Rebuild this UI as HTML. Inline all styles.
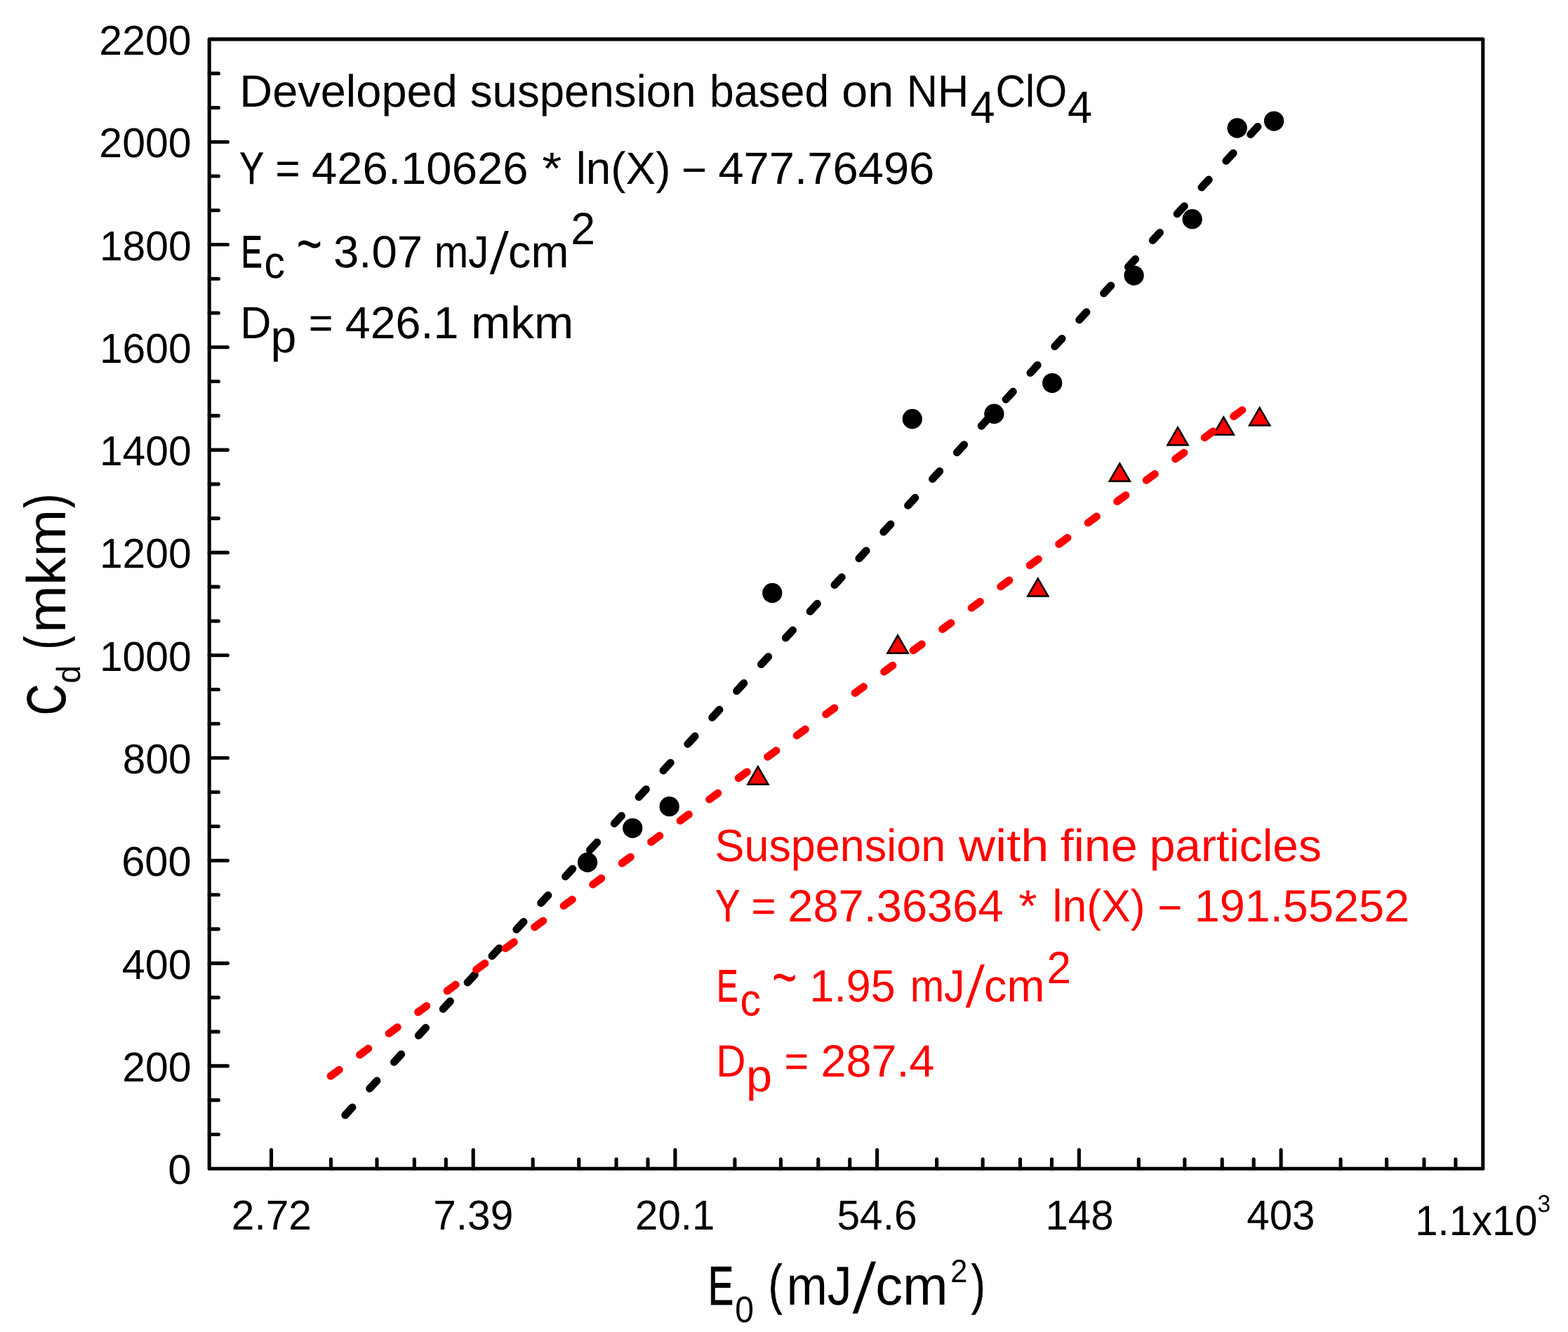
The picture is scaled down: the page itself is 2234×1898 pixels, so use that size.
<!DOCTYPE html>
<html><head><meta charset="utf-8"><title>Cd vs E0</title>
<style>html,body{margin:0;padding:0;background:#fff;width:2234px;height:1898px;overflow:hidden}svg{display:block;text-rendering:geometricPrecision}</style></head>
<body>
<svg width="2234" height="1898" viewBox="0 0 2234 1898">
<rect width="2234" height="1898" fill="#fff"/>
<g fill="#000">
<circle cx="837.1" cy="1228.8" r="14.15"/>
<circle cx="901.3" cy="1180.1" r="14.15"/>
<circle cx="953.7" cy="1149.2" r="14.15"/>
<circle cx="1100.3" cy="844.9" r="14.15"/>
<circle cx="1299.8" cy="597.0" r="14.15"/>
<circle cx="1416.4" cy="589.7" r="14.15"/>
<circle cx="1499.2" cy="545.8" r="14.15"/>
<circle cx="1615.6" cy="392.6" r="14.15"/>
<circle cx="1698.7" cy="312.2" r="14.15"/>
<circle cx="1762.7" cy="182.5" r="14.15"/>
<circle cx="1815.1" cy="172.6" r="14.15"/>
</g>
<g fill="#ff0000" stroke="#000" stroke-width="2.5" stroke-linejoin="miter">
<path d="M1079.95 1092.34L1094.55 1117.63L1065.35 1117.63Z"/>
<path d="M1279.10 905.34L1293.70 930.63L1264.50 930.63Z"/>
<path d="M1478.80 824.31L1493.40 849.60L1464.20 849.60Z"/>
<path d="M1595.30 660.44L1609.90 685.73L1580.70 685.73Z"/>
<path d="M1678.00 608.97L1692.60 634.26L1663.40 634.26Z"/>
<path d="M1743.30 594.27L1757.90 619.56L1728.70 619.56Z"/>
<path d="M1794.60 580.94L1809.20 606.23L1780.00 606.23Z"/>
</g>
<polyline points="491.80,1588.90 524.50,1553.47 557.21,1518.04 589.91,1482.61 622.62,1447.18 655.33,1411.75 688.03,1376.32 720.74,1340.89 753.44,1305.45 786.14,1270.02 818.85,1234.59 851.56,1199.16 884.26,1163.73 916.97,1128.30 949.67,1092.87 982.38,1057.44 1015.08,1022.01 1047.79,986.58 1080.49,951.15 1113.19,915.72 1145.90,880.29 1178.61,844.86 1211.31,809.43 1244.02,774.00 1276.72,738.57 1309.42,703.13 1342.13,667.70 1374.84,632.27 1407.54,596.84 1440.25,561.41 1472.95,525.98 1505.66,490.55 1538.36,455.12 1571.06,419.69 1603.77,384.26 1636.47,348.83 1669.18,313.40 1701.88,277.97 1734.59,242.54 1767.30,207.11 1800.00,171.68" fill="none" stroke="#000" stroke-width="11" stroke-linecap="round" stroke-dasharray="15 36.4"/>
<polyline points="471.15,1533.26 503.87,1509.35 536.59,1485.45 569.31,1461.54 602.03,1437.64 634.76,1413.73 667.48,1389.82 700.20,1365.92 732.92,1342.01 765.64,1318.11 798.36,1294.20 831.08,1270.29 863.80,1246.39 896.53,1222.48 929.25,1198.58 961.97,1174.67 994.69,1150.76 1027.41,1126.86 1060.13,1102.95 1092.85,1079.04 1125.57,1055.14 1158.30,1031.23 1191.02,1007.33 1223.74,983.42 1256.46,959.51 1289.18,935.61 1321.90,911.70 1354.62,887.80 1387.34,863.89 1420.07,839.98 1452.79,816.08 1485.51,792.17 1518.23,768.27 1550.95,744.36 1583.67,720.45 1616.39,696.55 1649.11,672.64 1681.84,648.74 1714.56,624.83 1747.28,600.92 1780.00,577.02" fill="none" stroke="#ff0000" stroke-width="11" stroke-linecap="round" stroke-dasharray="15 36.4"/>
<g stroke="#000" stroke-width="5.1" stroke-linecap="round" fill="none">
<path stroke-linejoin="round" d="M298.2 55.9H2112.8V1665.2H298.2Z"/>
<path d="M298.2 1518.90H324.35M298.2 1372.60H324.35M298.2 1226.30H324.35M298.2 1080.00H324.35M298.2 933.70H324.35M298.2 787.40H324.35M298.2 641.10H324.35M298.2 494.80H324.35M298.2 348.50H324.35M298.2 202.20H324.35M298.2 1616.43H311.35M298.2 1567.67H311.35M298.2 1470.13H311.35M298.2 1421.37H311.35M298.2 1323.83H311.35M298.2 1275.07H311.35M298.2 1177.53H311.35M298.2 1128.77H311.35M298.2 1031.23H311.35M298.2 982.47H311.35M298.2 884.93H311.35M298.2 836.17H311.35M298.2 738.63H311.35M298.2 689.87H311.35M298.2 592.33H311.35M298.2 543.57H311.35M298.2 446.03H311.35M298.2 397.27H311.35M298.2 299.73H311.35M298.2 250.97H311.35M298.2 153.43H311.35M298.2 104.67H311.35M386.49 1665.2V1638.65M674.21 1665.2V1638.65M961.92 1665.2V1638.65M1249.64 1665.2V1638.65M1537.36 1665.2V1638.65M1825.08 1665.2V1638.65M471.48 1665.2V1651.9M537.00 1665.2V1651.9M590.34 1665.2V1651.9M635.32 1665.2V1651.9M759.20 1665.2V1651.9M824.72 1665.2V1651.9M878.06 1665.2V1651.9M923.04 1665.2V1651.9M1046.92 1665.2V1651.9M1112.44 1665.2V1651.9M1165.78 1665.2V1651.9M1210.76 1665.2V1651.9M1334.63 1665.2V1651.9M1400.16 1665.2V1651.9M1453.50 1665.2V1651.9M1498.47 1665.2V1651.9M1622.35 1665.2V1651.9M1687.88 1665.2V1651.9M1741.21 1665.2V1651.9M1786.19 1665.2V1651.9M1910.07 1665.2V1651.9M1975.60 1665.2V1651.9M2028.93 1665.2V1651.9M2073.91 1665.2V1651.9"/>
</g>
<g style="font-family:'Liberation Sans',Arial,sans-serif;font-kerning:none;font-variant-ligatures:none">
<text x="141.33" y="77.90" font-size="59.5" textLength="131.27" lengthAdjust="spacingAndGlyphs" fill="#000">2200</text>
<text x="141.33" y="224.20" font-size="59.5" textLength="131.27" lengthAdjust="spacingAndGlyphs" fill="#000">2000</text>
<text x="141.93" y="370.50" font-size="59.5" textLength="130.67" lengthAdjust="spacingAndGlyphs" fill="#000">1800</text>
<text x="141.93" y="516.80" font-size="59.5" textLength="130.67" lengthAdjust="spacingAndGlyphs" fill="#000">1600</text>
<text x="141.93" y="663.10" font-size="59.5" textLength="130.67" lengthAdjust="spacingAndGlyphs" fill="#000">1400</text>
<text x="141.93" y="809.40" font-size="59.5" textLength="130.67" lengthAdjust="spacingAndGlyphs" fill="#000">1200</text>
<text x="141.93" y="955.70" font-size="59.5" textLength="130.67" lengthAdjust="spacingAndGlyphs" fill="#000">1000</text>
<text x="174.85" y="1102.00" font-size="59.5" textLength="97.73" lengthAdjust="spacingAndGlyphs" fill="#000">800</text>
<text x="173.17" y="1248.30" font-size="59.5" textLength="99.46" lengthAdjust="spacingAndGlyphs" fill="#000">600</text>
<text x="173.74" y="1394.60" font-size="59.5" textLength="98.87" lengthAdjust="spacingAndGlyphs" fill="#000">400</text>
<text x="174.23" y="1540.90" font-size="59.5" textLength="98.37" lengthAdjust="spacingAndGlyphs" fill="#000">200</text>
<text x="239.25" y="1687.20" font-size="59.5" textLength="33.39" lengthAdjust="spacingAndGlyphs" fill="#000">0</text>
<text x="329.75" y="1752.00" font-size="59.5" textLength="114.20" lengthAdjust="spacingAndGlyphs" fill="#000">2.72</text>
<text x="617.19" y="1752.00" font-size="59.5" textLength="114.19" lengthAdjust="spacingAndGlyphs" fill="#000">7.39</text>
<text x="905.07" y="1752.00" font-size="59.5" textLength="113.37" lengthAdjust="spacingAndGlyphs" fill="#000">20.1</text>
<text x="1192.45" y="1752.00" font-size="59.5" textLength="114.12" lengthAdjust="spacingAndGlyphs" fill="#000">54.6</text>
<text x="1489.46" y="1752.00" font-size="59.5" textLength="97.17" lengthAdjust="spacingAndGlyphs" fill="#000">148</text>
<text x="1776.26" y="1752.00" font-size="59.5" textLength="97.30" lengthAdjust="spacingAndGlyphs" fill="#000">403</text>
<text x="2016.28" y="1759.80" font-size="60.5" textLength="174.29" lengthAdjust="spacingAndGlyphs" fill="#000">1.1x10</text>
<text x="2190.52" y="1727.00" font-size="34.7" textLength="18.65" lengthAdjust="spacingAndGlyphs" fill="#000">3</text>
<text x="1008.70" y="1858.90" font-size="78" textLength="36.55" lengthAdjust="spacingAndGlyphs" fill="#000" stroke="#000" stroke-width="1.06">E</text>
<text x="1047.32" y="1884.00" font-size="52.5" textLength="26.76" lengthAdjust="spacingAndGlyphs" fill="#000">0</text>
<text x="1094.90" y="1856.70" font-size="78" textLength="19.34" lengthAdjust="spacingAndGlyphs" fill="#000" stroke="#000" stroke-width="0.86">(</text>
<text x="1120.78" y="1858.90" font-size="78" textLength="92.79" lengthAdjust="spacingAndGlyphs" fill="#000">mJ</text>
<g transform="translate(0 1871.80) scale(1 0.7677)"><text stroke="#fff" stroke-width="3.44" x="1212.47" y="0.00" font-size="136.29" textLength="37.87" lengthAdjust="spacingAndGlyphs" fill="#000">/</text></g>
<text x="1247.20" y="1858.90" font-size="78" textLength="103.41" lengthAdjust="spacingAndGlyphs" fill="#000">cm</text>
<text x="1354.31" y="1826.90" font-size="46.3" textLength="24.17" lengthAdjust="spacingAndGlyphs" fill="#000">2</text>
<text x="1384.06" y="1856.70" font-size="78" textLength="19.59" lengthAdjust="spacingAndGlyphs" fill="#000" stroke="#000" stroke-width="0.81">)</text>
<g transform="translate(92.6 1016.1) rotate(-90)">
<text x="-3.14" y="0.00" font-size="78" textLength="44.59" lengthAdjust="spacingAndGlyphs" fill="#000" stroke="#000" stroke-width="0.66">C</text>
<text x="42.36" y="21.60" font-size="47.5" textLength="25.72" lengthAdjust="spacingAndGlyphs" fill="#000">d</text>
<text x="91.06" y="-2.50" font-size="78" textLength="17.96" lengthAdjust="spacingAndGlyphs" fill="#000" stroke="#000" stroke-width="1.12">(</text>
<text x="113.99" y="0.00" font-size="78" textLength="176.48" lengthAdjust="spacingAndGlyphs" fill="#000">mkm</text>
<text x="292.86" y="-2.50" font-size="78" textLength="19.47" lengthAdjust="spacingAndGlyphs" fill="#000" stroke="#000" stroke-width="0.84">)</text>
</g>
<text x="341.27" y="152.30" font-size="64.5" textLength="310.51" lengthAdjust="spacingAndGlyphs" fill="#000">Developed</text>
<text x="669.73" y="152.30" font-size="64.5" textLength="321.80" lengthAdjust="spacingAndGlyphs" fill="#000">suspension</text>
<text x="1011.07" y="152.30" font-size="64.5" textLength="170.15" lengthAdjust="spacingAndGlyphs" fill="#000">based</text>
<text x="1199.21" y="152.30" font-size="64.5" textLength="73.91" lengthAdjust="spacingAndGlyphs" fill="#000">on</text>
<text x="1291.77" y="152.30" font-size="64.5" textLength="88.53" lengthAdjust="spacingAndGlyphs" fill="#000">NH</text>
<text x="1382.45" y="174.50" font-size="64.5" textLength="35.10" lengthAdjust="spacingAndGlyphs" fill="#000">4</text>
<text x="1418.40" y="152.30" font-size="64.5" textLength="101.83" lengthAdjust="spacingAndGlyphs" fill="#000">ClO</text>
<text x="1521.05" y="174.50" font-size="64.5" textLength="35.10" lengthAdjust="spacingAndGlyphs" fill="#000">4</text>
<text x="341.26" y="261.90" font-size="64.5" textLength="34.69" lengthAdjust="spacingAndGlyphs" fill="#000" stroke="#000" stroke-width="0.60">Y</text>
<text x="392.24" y="261.90" font-size="64.5" textLength="35.46" lengthAdjust="spacingAndGlyphs" fill="#000">=</text>
<text x="444.00" y="261.90" font-size="64.5" textLength="308.57" lengthAdjust="spacingAndGlyphs" fill="#000">426.10626</text>
<text x="772.34" y="261.90" font-size="64.5" textLength="28.09" lengthAdjust="spacingAndGlyphs" fill="#000">*</text>
<text x="820.70" y="261.90" font-size="64.5" textLength="134.76" lengthAdjust="spacingAndGlyphs" fill="#000">ln(X)</text>
<text x="971.05" y="263.75" font-size="64.5" textLength="36.06" lengthAdjust="spacingAndGlyphs" fill="#000">−</text>
<text x="1023.40" y="261.90" font-size="64.5" textLength="307.96" lengthAdjust="spacingAndGlyphs" fill="#000">477.76496</text>
<text x="343.58" y="380.80" font-size="64.5" textLength="30.27" lengthAdjust="spacingAndGlyphs" fill="#000" stroke="#000" stroke-width="1.05">E</text>
<text x="376.59" y="396.40" font-size="64.5" textLength="29.57" lengthAdjust="spacingAndGlyphs" fill="#000">c</text>
<g transform="translate(0 347.70) scale(1 1.4) translate(0 -347.70)"><text x="422.59" y="369.12" font-size="64.5" textLength="36.52" lengthAdjust="spacingAndGlyphs" fill="#000">~</text></g>
<text x="474.91" y="380.80" font-size="64.5" textLength="127.17" lengthAdjust="spacingAndGlyphs" fill="#000">3.07</text>
<text x="618.83" y="380.80" font-size="64.5" textLength="77.58" lengthAdjust="spacingAndGlyphs" fill="#000">mJ</text>
<g transform="translate(0 391.32) scale(1 0.7814)"><text stroke="#fff" stroke-width="2.74" x="695.77" y="0.00" font-size="111.44" textLength="30.96" lengthAdjust="spacingAndGlyphs" fill="#000">/</text></g>
<text x="724.05" y="380.80" font-size="64.5" textLength="86.43" lengthAdjust="spacingAndGlyphs" fill="#000">cm</text>
<text x="813.24" y="348.10" font-size="64.5" textLength="34.91" lengthAdjust="spacingAndGlyphs" fill="#000">2</text>
<text x="342.29" y="482.30" font-size="64.5" textLength="44.14" lengthAdjust="spacingAndGlyphs" fill="#000">D</text>
<text x="385.53" y="502.40" font-size="64.5" textLength="36.85" lengthAdjust="spacingAndGlyphs" fill="#000">p</text>
<text x="439.80" y="482.30" font-size="64.5" textLength="34.74" lengthAdjust="spacingAndGlyphs" fill="#000">=</text>
<text x="491.82" y="482.30" font-size="64.5" textLength="161.53" lengthAdjust="spacingAndGlyphs" fill="#000">426.1</text>
<text x="670.92" y="482.30" font-size="64.5" textLength="146.23" lengthAdjust="spacingAndGlyphs" fill="#000">mkm</text>
<text x="1018.44" y="1227.00" font-size="64.5" textLength="328.74" lengthAdjust="spacingAndGlyphs" fill="#ff0000">Suspension</text>
<text x="1366.11" y="1227.00" font-size="64.5" textLength="128.28" lengthAdjust="spacingAndGlyphs" fill="#ff0000">with</text>
<text x="1510.73" y="1227.00" font-size="64.5" textLength="110.00" lengthAdjust="spacingAndGlyphs" fill="#ff0000">fine</text>
<text x="1637.76" y="1227.00" font-size="64.5" textLength="245.12" lengthAdjust="spacingAndGlyphs" fill="#ff0000">particles</text>
<text x="1019.25" y="1313.20" font-size="64.5" textLength="35.01" lengthAdjust="spacingAndGlyphs" fill="#ff0000" stroke="#ff0000" stroke-width="0.57">Y</text>
<text x="1070.57" y="1313.20" font-size="64.5" textLength="35.10" lengthAdjust="spacingAndGlyphs" fill="#ff0000">=</text>
<text x="1122.23" y="1313.20" font-size="64.5" textLength="307.38" lengthAdjust="spacingAndGlyphs" fill="#ff0000">287.36364</text>
<text x="1451.21" y="1313.20" font-size="64.5" textLength="26.24" lengthAdjust="spacingAndGlyphs" fill="#ff0000">*</text>
<text x="1499.58" y="1313.20" font-size="64.5" textLength="132.10" lengthAdjust="spacingAndGlyphs" fill="#ff0000">ln(X)</text>
<text x="1649.33" y="1315.05" font-size="64.5" textLength="35.22" lengthAdjust="spacingAndGlyphs" fill="#ff0000">−</text>
<text x="1701.76" y="1313.20" font-size="64.5" textLength="306.29" lengthAdjust="spacingAndGlyphs" fill="#ff0000">191.55252</text>
<text x="1021.28" y="1426.70" font-size="64.5" textLength="30.27" lengthAdjust="spacingAndGlyphs" fill="#ff0000" stroke="#ff0000" stroke-width="1.05">E</text>
<text x="1054.59" y="1447.10" font-size="64.5" textLength="29.57" lengthAdjust="spacingAndGlyphs" fill="#ff0000">c</text>
<g transform="translate(0 1393.30) scale(1 1.4) translate(0 -1393.30)"><text x="1099.97" y="1414.72" font-size="64.5" textLength="35.45" lengthAdjust="spacingAndGlyphs" fill="#ff0000">~</text></g>
<text x="1153.52" y="1426.70" font-size="64.5" textLength="122.11" lengthAdjust="spacingAndGlyphs" fill="#ff0000">1.95</text>
<text x="1296.83" y="1426.70" font-size="64.5" textLength="77.58" lengthAdjust="spacingAndGlyphs" fill="#ff0000">mJ</text>
<g transform="translate(0 1435.83) scale(1 0.7775)"><text stroke="#fff" stroke-width="2.75" x="1373.77" y="0.00" font-size="111.46" textLength="30.97" lengthAdjust="spacingAndGlyphs" fill="#ff0000">/</text></g>
<text x="1402.05" y="1426.70" font-size="64.5" textLength="86.43" lengthAdjust="spacingAndGlyphs" fill="#ff0000">cm</text>
<text x="1491.58" y="1400.90" font-size="64.5" textLength="34.55" lengthAdjust="spacingAndGlyphs" fill="#ff0000">2</text>
<text x="1020.19" y="1534.40" font-size="64.5" textLength="42.31" lengthAdjust="spacingAndGlyphs" fill="#ff0000">D</text>
<text x="1063.11" y="1555.00" font-size="64.5" textLength="36.98" lengthAdjust="spacingAndGlyphs" fill="#ff0000">p</text>
<text x="1117.50" y="1534.40" font-size="64.5" textLength="34.74" lengthAdjust="spacingAndGlyphs" fill="#ff0000">=</text>
<text x="1169.55" y="1534.40" font-size="64.5" textLength="161.85" lengthAdjust="spacingAndGlyphs" fill="#ff0000">287.4</text>
</g>
</svg>
</body></html>
